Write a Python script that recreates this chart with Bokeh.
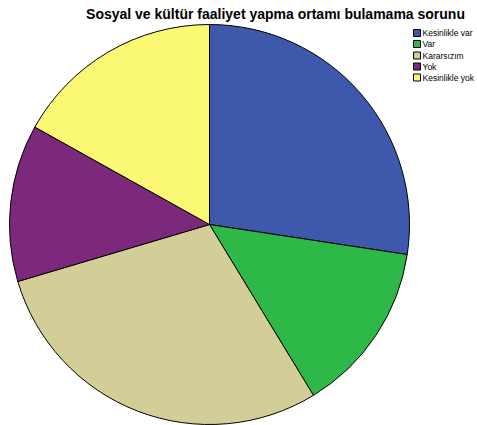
import math
from bokeh.plotting import figure
from bokeh.models import Range1d, ColumnDataSource
from bokeh.core.properties import value
from bokeh.embed import file_html
from bokeh.resources import INLINE

title = "Sosyal ve kültür faaliyet yapma ortamı bulamama sorunu"
categories = ["Kesinlikle var", "Var", "Kararsızım", "Yok", "Kesinlikle yok"]
percents = [27.4, 13.9, 29.1, 12.7, 16.9]
colors = ["#3E58AC", "#2EB848", "#D3CE97", "#7C287D", "#FBF873"]

W, H = 477, 425
p = figure(width=W, height=H, output_backend="svg", toolbar_location=None,
           x_range=Range1d(0, W), y_range=Range1d(0, H), min_border=0)
p.axis.visible = False
p.grid.visible = False
p.outline_line_color = None
p.background_fill_color = "white"
p.border_fill_color = "white"

cx, cy, r = 209, H - 224, 200
total = sum(percents)
starts, ends = [], []
cum = 0.0
for v in percents:
    starts.append(math.pi / 2 - cum / total * 2 * math.pi)
    cum += v
    ends.append(math.pi / 2 - cum / total * 2 * math.pi)

src = ColumnDataSource(dict(start=starts, end=ends, color=colors, cat=categories))
p.wedge(x=cx, y=cy, radius=r, start_angle="start", end_angle="end", direction="clock",
        fill_color="color", line_color="black", line_width=1, source=src)

p.text(x=[275], y=[H - 13], text=[title], text_font=value("Liberation Sans"),
       text_font_style="bold", text_font_size="14px", text_align="center",
       text_baseline="alphabetic", text_color="black")

# legend
ys = [H - y for y in [32.5, 43.5, 55, 66, 77]]
p.rect(x=[416.5] * 5, y=ys, width=7, height=7, fill_color=colors, line_color="black", line_width=1)
p.text(x=[422] * 5, y=ys, text=categories, text_font=value("Liberation Sans"),
       text_font_size="8.5px", text_align="left", text_baseline="middle", text_color="black")

open("out.html", "w").write(file_html(p, INLINE))
